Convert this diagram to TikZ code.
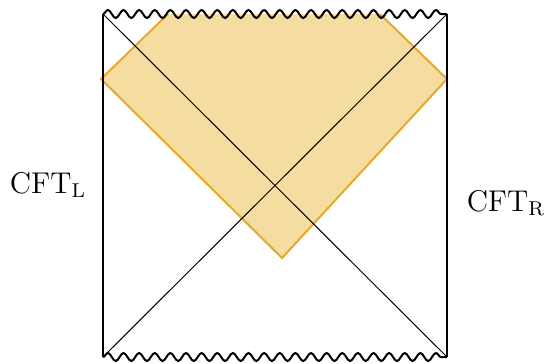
\documentclass[tikz,border=0pt]{standalone}
\usepackage{tikz}
\usetikzlibrary{calc,positioning,decorations.pathmorphing}
\usepackage{xcolor}
\definecolor{wedgeFill}{HTML}{F5DCA0}
\definecolor{wedgeLine}{HTML}{E8A82A}

\begin{document}
\begin{tikzpicture}[
  x=0.4pt,y=-0.4pt,
  every node/.style={font=\fontsize{12}{14}\selectfont},
  edge/.style={draw=black,line width=0.8pt},
  horizon/.style={draw=black,line width=0.4pt},
  singular/.style={draw=black,line width=0.8pt,decorate,decoration={snake,segment length=6.25pt,amplitude=1.6pt}},
  wedge/.style={fill=wedgeFill},
  wedgeborder/.style={draw=wedgeLine,line width=0.8pt,line join=miter},
]
\useasboundingbox (0,0) rectangle (548,363);
% corners of the diagram
\coordinate (tl) at (103,14);
\coordinate (tr) at (447,14);
\coordinate (bl) at (103,357);
\coordinate (br) at (447,357);
% orange region
\coordinate (wl) at (101,79);
\coordinate (wtl) at (168,14);
\coordinate (wtr) at (380,14);
\coordinate (wr) at (447,79);
\coordinate (wb) at (282,258);

\fill[wedge] (wl) -- (wtl) -- (wtr) -- (wr) -- (wb) -- cycle;
\draw[wedgeborder] (wtl) -- (wl) -- (wb) -- (wr) -- (wtr);

\draw[horizon] (tl) -- (br);
\draw[horizon] (bl) -- (tr);
\draw[edge] (tl) -- (bl);
\draw[edge] (tr) -- (br);
\draw[singular] (tl) -- (tr);
\draw[singular] (bl) -- (br);

\node (cftl) at (48,185) {CFT$_{\mathrm{L}}$};
\node (cftr) at (506,203) {CFT$_{\mathrm{R}}$};
\end{tikzpicture}
\end{document}
